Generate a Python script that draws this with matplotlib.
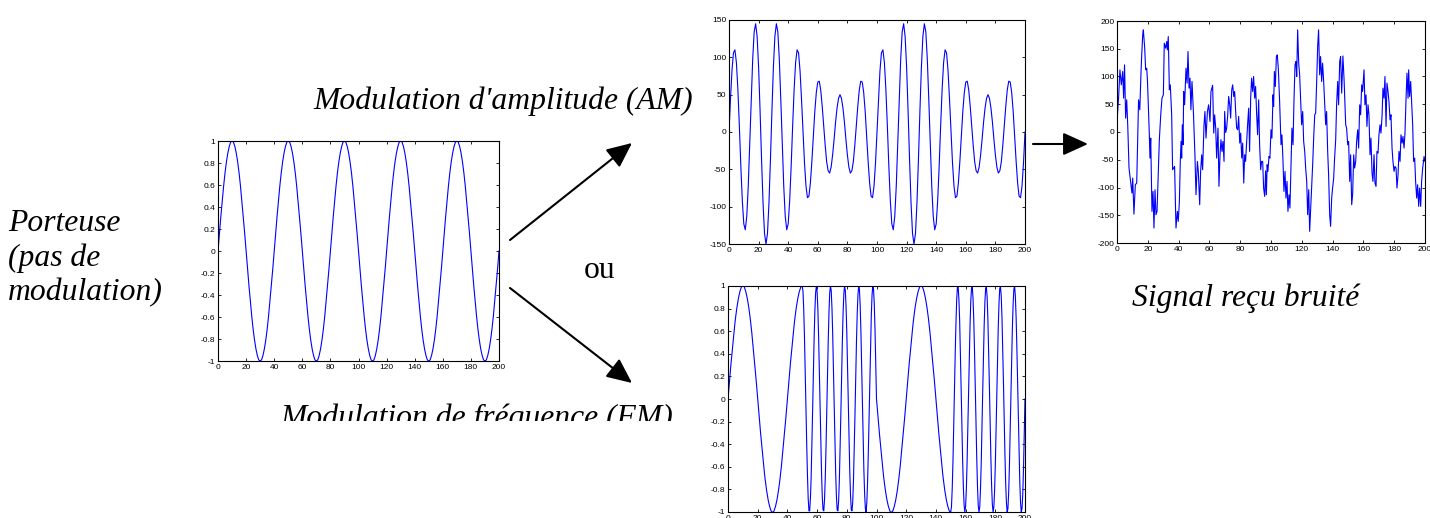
import numpy as np
import matplotlib
matplotlib.use("Agg")
import matplotlib.pyplot as plt
from matplotlib.patches import Rectangle

# ---------------- data ----------------
# carrier, sampled at t = 0, 1, ..., 200
carrier = [
    0, .16, .31, .45, .59, .71, .81, .89, .95, .99, 1, .99, .95, .89, .81, .71, .59, .45, .31, .16,
    0, -.16, -.31, -.45, -.59, -.71, -.81, -.89, -.95, -.99, -1, -.99, -.95, -.89, -.81, -.71, -.59, -.45, -.31, -.16,
    0, .16, .31, .45, .59, .71, .81, .89, .95, .99, 1, .99, .95, .89, .81, .71, .59, .45, .31, .16,
    0, -.16, -.31, -.45, -.59, -.71, -.81, -.89, -.95, -.99, -1, -.99, -.95, -.89, -.81, -.71, -.59, -.45, -.31, -.16,
    0, .16, .31, .45, .59, .71, .81, .89, .95, .99, 1, .99, .95, .89, .81, .71, .59, .45, .31, .16,
    0, -.16, -.31, -.45, -.59, -.71, -.81, -.89, -.95, -.99, -1, -.99, -.95, -.89, -.81, -.71, -.59, -.45, -.31, -.16,
    0, .16, .31, .45, .59, .71, .81, .89, .95, .99, 1, .99, .95, .89, .81, .71, .59, .45, .31, .16,
    0, -.16, -.31, -.45, -.59, -.71, -.81, -.89, -.95, -.99, -1, -.99, -.95, -.89, -.81, -.71, -.59, -.45, -.31, -.16,
    0, .16, .31, .45, .59, .71, .81, .89, .95, .99, 1, .99, .95, .89, .81, .71, .59, .45, .31, .16,
    0, -.16, -.31, -.45, -.59, -.71, -.81, -.89, -.95, -.99, -1, -.99, -.95, -.89, -.81, -.71, -.59, -.45, -.31, -.16,
    0,
]

# AM signal, sampled at t = 0, 1, ..., 200
am_signal = [
    0, 44, 82, 106, 110, 93, 57, 8, -46, -92, -123, -131, -113, -73, -17, 43, 97, 134, 145, 128,
    87, 28, -37, -95, -136, -150, -136, -95, -37, 28, 87, 128, 145, 134, 97, 43, -17, -73, -113, -131,
    -123, -92, -46, 8, 57, 93, 110, 106, 82, 44, 0, -41, -72, -88, -86, -68, -39, -5, 28, 53,
    67, 68, 56, 34, 8, -18, -40, -52, -55, -47, -31, -10, 13, 32, 45, 50, 45, 32, 13, -10,
    -31, -47, -55, -52, -40, -18, 8, 34, 56, 68, 67, 53, 28, -5, -39, -68, -86, -88, -72, -41,
    0, 44, 82, 106, 110, 93, 57, 8, -46, -92, -123, -131, -113, -73, -17, 43, 97, 134, 145, 128,
    87, 28, -37, -95, -136, -150, -136, -95, -37, 28, 87, 128, 145, 134, 97, 43, -17, -73, -113, -131,
    -123, -92, -46, 8, 57, 93, 110, 106, 82, 44, 0, -41, -72, -88, -86, -68, -39, -5, 28, 53,
    67, 68, 56, 34, 8, -18, -40, -52, -55, -47, -31, -10, 13, 32, 45, 50, 45, 32, 13, -10,
    -31, -47, -55, -52, -40, -18, 8, 34, 56, 68, 67, 53, 28, -5, -39, -68, -86, -88, -72, -41,
    0,
]

# FM signal, sampled at t = 0, 0.5, 1, ..., 200
fm_signal = [
    # t = 0 .. 50
    0, .08, .16, .23, .31, .38, .45, .52, .59, .65, .71, .76, .81, .85, .89, .92, .95, .97, .99, 1, 1,
    1, .99, .97, .95, .92, .89, .85, .81, .76, .71, .65, .59, .52, .45, .38, .31, .23, .16, .08, 0,
    -.08, -.16, -.23, -.31, -.38, -.45, -.52, -.59, -.65, -.71, -.76, -.81, -.85, -.89, -.92, -.95, -.97, -.99, -1, -1,
    -1, -.99, -.97, -.95, -.92, -.89, -.85, -.81, -.76, -.71, -.65, -.59, -.52, -.45, -.38, -.31, -.23, -.16, -.08, 0,
    .08, .16, .23, .31, .38, .45, .52, .59, .65, .71, .76, .81, .85, .89, .92, .95, .97, .99, 1, 1,
    # t = 50.5 .. 100
    .95, .79, .55, .25, -.08, -.40, -.67, -.88, -.99, -.99,
    -.88, -.69, -.41, -.09, .23, .54, .78, .94, 1, .95,
    .80, .56, .26, -.06, -.38, -.66, -.87, -.98, -.99, -.89,
    -.70, -.43, -.11, .22, .52, .77, .94, 1, .96, .81,
    .58, .28, -.05, -.37, -.65, -.86, -.98, -.99, -.90, -.71,
    -.44, -.13, .20, .51, .76, .93, 1, .96, .82, .59,
    .29, -.03, -.35, -.64, -.85, -.98, -.99, -.91, -.72, -.45,
    -.14, .19, .50, .75, .92, 1, .97, .83, .60, .31,
    -.02, -.34, -.63, -.84, -.97, -1, -.91, -.73, -.47, -.16,
    .17, .48, .74, .92, 1, .97, .84, .61, .32, 0,
    # t = 100.5 .. 150
    -.08, -.16, -.23, -.31, -.38, -.45, -.52, -.59, -.65, -.71, -.76, -.81, -.85, -.89, -.92, -.95, -.97, -.99, -1, -1,
    -1, -.99, -.97, -.95, -.92, -.89, -.85, -.81, -.76, -.71, -.65, -.59, -.52, -.45, -.38, -.31, -.23, -.16, -.08, 0,
    .08, .16, .23, .31, .38, .45, .52, .59, .65, .71, .76, .81, .85, .89, .92, .95, .97, .99, 1, 1,
    1, .99, .97, .95, .92, .89, .85, .81, .76, .71, .65, .59, .52, .45, .38, .31, .23, .16, .08, 0,
    -.08, -.16, -.23, -.31, -.38, -.45, -.52, -.59, -.65, -.71, -.76, -.81, -.85, -.89, -.92, -.95, -.97, -.99, -1, -1,
    # t = 150.5 .. 200
    -.95, -.79, -.55, -.25, .08, .40, .67, .88, .99, .99,
    .88, .69, .41, .09, -.23, -.54, -.78, -.94, -1, -.95,
    -.80, -.56, -.26, .06, .38, .66, .87, .98, .99, .89,
    .70, .43, .11, -.22, -.52, -.77, -.94, -1, -.96, -.81,
    -.58, -.28, .05, .37, .65, .86, .98, .99, .90, .71,
    .44, .13, -.20, -.51, -.76, -.93, -1, -.96, -.82, -.59,
    -.29, .03, .35, .64, .85, .98, .99, .91, .72, .45,
    .14, -.19, -.50, -.75, -.92, -1, -.97, -.83, -.60, -.31,
    .02, .34, .63, .84, .97, 1, .91, .73, .47, .16,
    -.17, -.48, -.74, -.92, -1, -.97, -.84, -.61, -.32, 0,
]

# received noisy signal: (time, value) pairs
noisy_t = [
    0.0, 0.3, 1.0, 1.9, 2.8, 3.7, 4.3, 4.9, 5.6, 6.3, 7.0, 7.8, 8.9, 9.7, 10.2, 11.0, 11.9, 12.8, 14.0, 14.8,
    15.5, 16.0, 16.7, 17.1, 18.0, 18.6, 19.3, 19.8, 21.0, 21.4, 21.9, 22.3, 22.7, 23.4, 24.0, 24.7, 25.3, 26.0, 26.8, 27.5,
    28.4, 29.2, 30.1, 30.7, 31.6, 32.3, 32.7, 33.3, 34.0, 34.6, 35.5, 36.1, 36.8, 37.4, 38.3, 39.2, 39.8, 40.5, 41.1, 41.6,
    42.0, 42.4, 42.9, 43.3, 43.9, 44.8, 45.5, 46.1, 46.8, 47.4, 48.0, 48.7, 49.6, 50.6, 51.3, 52.2, 52.8, 53.7, 54.3, 55.0,
    55.6, 56.5, 57.1, 57.8, 58.7, 59.5, 60.4, 61.0, 62.1, 62.8, 63.4, 64.1, 64.7, 65.6, 66.2, 66.9, 67.5, 68.2, 68.8, 69.5,
    69.9, 70.6, 71.2, 71.9, 72.5, 73.2, 73.8, 74.5, 75.1, 75.8, 76.4, 77.1, 77.7, 78.4, 79.0, 79.7, 80.3, 81.0, 81.6, 82.3,
    82.9, 83.5, 84.2, 84.8, 85.5, 86.1, 86.8, 87.4, 88.1, 88.7, 89.4, 90.0, 90.7, 91.3, 92.0, 92.6, 93.3, 93.9, 94.6, 95.2,
    95.9, 96.5, 97.0, 97.5, 98.0, 98.7, 99.3, 100.0, 100.6, 101.3, 101.7, 102.2, 102.8, 103.5, 104.1, 104.8, 105.6, 106.5, 107.1, 107.8,
    108.4, 109.1, 109.7, 110.4, 111.0, 111.7, 112.3, 113.0, 113.6, 114.3, 114.9, 115.6, 116.2, 116.7, 117.3, 118.0, 118.6, 119.3, 119.9, 120.6,
    121.2, 121.9, 122.5, 123.2, 123.8, 124.5, 125.1, 125.8, 126.4, 127.1, 127.7, 128.4, 129.0, 129.6, 130.3, 130.9, 131.6, 132.2, 132.9, 133.5,
    134.2, 134.8, 135.5, 136.1, 136.8, 137.4, 138.1, 138.7, 139.4, 140.0, 140.7, 141.3, 142.0, 142.6, 143.3, 143.9, 144.6, 145.2, 145.9, 146.7,
    147.5, 148.5, 149.1, 149.8, 150.4, 151.1, 151.7, 152.4, 153.0, 153.7, 154.3, 155.0, 155.6, 156.3, 156.9, 157.6, 158.2, 158.9, 159.5, 160.4,
    161.0, 161.7, 162.3, 163.0, 163.6, 164.3, 164.9, 165.6, 166.2, 166.9, 167.5, 168.2, 168.8, 169.5, 170.1, 170.8, 171.4, 172.1, 172.7, 173.4,
    174.0, 174.7, 175.3, 176.0, 176.6, 177.3, 177.9, 178.6, 179.2, 179.9, 180.5, 181.2, 181.8, 182.5, 183.1, 183.8, 184.4, 185.1, 185.7, 186.4,
    187.0, 187.7, 188.3, 189.0, 189.4, 190.0, 190.7, 191.3, 192.0, 192.6, 193.3, 193.9, 194.6, 195.2, 195.9, 196.5, 197.2, 197.8, 198.5, 199.4,
    200.0,
]
noisy_v = [
    40, 31, 60, 112, 85, 109, 61, 121, 25, 58, 10, -65, -92, -110, -83, -148, -95, -92, 58, 40,
    100, 136, 175, 184, 151, 112, 115, 91, -5, -47, -11, -77, -143, -107, -173, -104, -149, -143, -71, -14,
    31, 61, 67, 160, 151, 163, 148, 172, 76, 85, 31, -68, -65, -62, -173, -143, -161, -125, -53, -17,
    -47, 13, -23, 73, 49, 115, 88, 145, 79, 97, 40, 91, 37, -41, -113, -53, -71, -131, -71, -41,
    -68, 13, 37, -11, 37, 49, 19, 73, 84, -2, 31, 7, -47, 7, -98, -41, -14, -35, -17, -53,
    37, -1, 7, 31, 64, 49, 25, 76, 85, 64, 73, 34, 7, 4, 28, -20, -2, -47, -20, -92,
    -41, -53, -17, 13, 43, -35, 61, 97, 73, 100, 61, 82, 31, -5, 58, -23, -68, -53, -53, -101,
    -116, -70, -113, -59, -71, -44, -47, 4, -11, 67, 46, 109, 82, 136, 139, 112, 55, -23, -5, -53,
    -107, -71, -119, -89, -143, -113, -137, -59, 7, -23, 55, 121, 127, 100, 184, 124, 103, 55, 13, 37,
    -17, -35, -65, -89, -149, -104, -179, -137, -101, -56, -11, 31, 34, 85, 154, 184, 103, 136, 91, 124,
    91, 55, 13, 37, -35, -77, -149, -170, -119, -101, -83, -47, -14, 49, 91, 49, 127, 136, 70, 137,
    91, 13, 7, -23, -17, -89, -41, -131, -113, -41, -65, -53, -17, 4, -29, 49, 31, 85, 73, 112,
    49, 67, 10, 49, 31, -41, -11, -74, -89, -41, -92, -98, -35, -38, -5, 13, -2, 28, 79, 61,
    100, 10, 88, 73, 55, 22, 31, -29, -53, -71, -62, -65, -101, -77, -35, -53, -5, -20, -8, -29,
    -2, 61, 106, 61, 112, 64, 91, 55, 13, -53, -47, -89, -119, -95, -134, -101, -134, -89, -65, -44,
    -53,
]

# tick values and labels
x_ticks = [0, 20, 40, 60, 80, 100, 120, 140, 160, 180, 200]
x_tick_labels = ["0", "20", "40", "60", "80", "100", "120", "140", "160", "180", "200"]
unit_ticks = [-1, -0.8, -0.6, -0.4, -0.2, 0, 0.2, 0.4, 0.6, 0.8, 1]
unit_tick_labels = ["-1", "-0.8", "-0.6", "-0.4", "-0.2", "0", "0.2", "0.4", "0.6", "0.8", "1"]
am_ticks = [-150, -100, -50, 0, 50, 100, 150]
am_tick_labels = ["-150", "-100", "-50", "0", "50", "100", "150"]
noisy_ticks = [-200, -150, -100, -50, 0, 50, 100, 150, 200]
noisy_tick_labels = ["-200", "-150", "-100", "-50", "0", "50", "100", "150", "200"]

# ---------------- figure ----------------
W, H = 1430, 518
fig = plt.figure(figsize=(W / 100, H / 100), dpi=100)
fig.patch.set_facecolor("white")

SERIF = ["Liberation Serif", "DejaVu Serif"]
SANS = ["Liberation Sans", "DejaVu Sans"]
BLUE = "#0000ff"


def px_axes(left, top, right, bottom):
    return fig.add_axes([left / W, 1 - bottom / H, (right - left) / W, (bottom - top) / H])


def style(ax, yticks, ylabels, ylim):
    ax.set_xlim(0, 200)
    ax.set_ylim(*ylim)
    ax.set_xticks(x_ticks)
    ax.set_xticklabels(x_tick_labels)
    ax.set_yticks(yticks)
    ax.set_yticklabels(ylabels)
    ax.tick_params(direction="in", top=True, right=True, length=2.5, width=0.6,
                   labelsize=6, pad=2, colors="black")
    for lab in ax.get_xticklabels() + ax.get_yticklabels():
        lab.set_family(SANS)
    for s in ax.spines.values():
        s.set_linewidth(0.8)
        s.set_color("black")


t_int = np.arange(len(carrier))
t_half = np.linspace(0, 200, len(fm_signal))

# carrier
ax_c = px_axes(218, 141, 499, 361)
ax_c.plot(t_int, carrier, color=BLUE, lw=0.8)
style(ax_c, unit_ticks, unit_tick_labels, (-1, 1))

# AM
ax_am = px_axes(729, 20, 1025, 244)
ax_am.plot(np.arange(len(am_signal)), am_signal, color=BLUE, lw=0.8)
style(ax_am, am_ticks, am_tick_labels, (-150, 150))

# noisy received signal
ax_n = px_axes(1117, 21, 1425, 243)
ax_n.plot(noisy_t, noisy_v, color=BLUE, lw=0.8)
style(ax_n, noisy_ticks, noisy_tick_labels, (-200, 200))

# FM
ax_fm = px_axes(728, 286, 1025, 512)
ax_fm.plot(t_half, fm_signal, color=BLUE, lw=0.8)
style(ax_fm, unit_ticks, unit_tick_labels, (-1, 1))

# ---------------- overlay: texts & arrows ----------------
ov = fig.add_axes([0, 0, 1, 1])
ov.set_xlim(0, W)
ov.set_ylim(H, 0)
ov.axis("off")

FS = 22.8
ov.text(313, 109, "Modulation d'amplitude (AM)", fontsize=FS, style="italic",
        family=SERIF, ha="left", va="baseline")
ov.text(8, 258, "Porteuse\n(pas de\nmodulation)", fontsize=FS, style="italic",
        family=SERIF, ha="left", va="center", linespacing=1.25)
ov.text(600, 270, "ou", fontsize=FS, family=SERIF, ha="center", va="center")
ov.text(280, 426, "Modulation de fréquence (FM)", fontsize=FS, style="italic",
        family=SERIF, ha="left", va="baseline", zorder=3)
ov.add_patch(Rectangle((260, 421), 440, 100, facecolor="white", edgecolor="none", zorder=4))
ov.text(1132, 306, "Signal reçu bruité", fontsize=FS, style="italic",
        family=SERIF, ha="left", va="baseline")

arrow_style = dict(arrowstyle="-|>,head_length=0.55,head_width=0.25", color="black",
                   lw=1.5, mutation_scale=28, shrinkA=0, shrinkB=0)
ov.annotate("", xy=(632, 143), xytext=(510, 240), arrowprops=arrow_style)
ov.annotate("", xy=(632, 383), xytext=(510, 288), arrowprops=arrow_style)
ov.annotate("", xy=(1088, 144), xytext=(1033, 144), arrowprops=arrow_style)

fig.savefig("out.png", dpi=100, facecolor="white")
